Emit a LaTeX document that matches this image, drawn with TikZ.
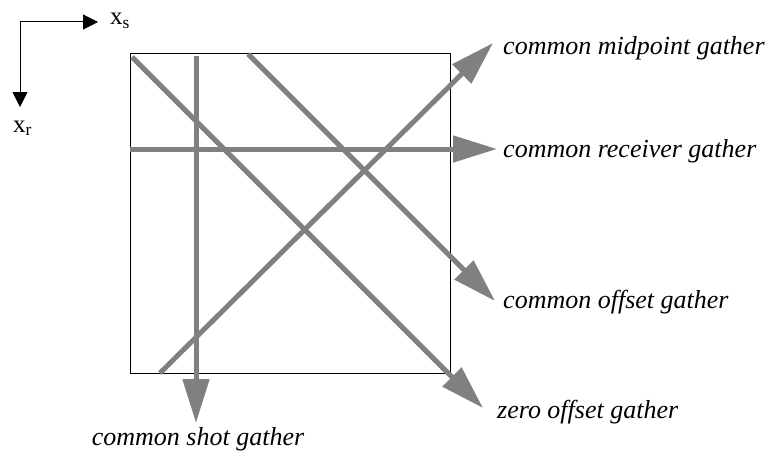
\documentclass[tikz,border=0pt]{standalone}
\usepackage{fontspec}
\setmainfont{Liberation Serif}
\usetikzlibrary{arrows.meta}

\begin{document}
\begin{tikzpicture}[
    x=1pt, y=-1pt,
    gray ray/.style={draw=gray, line width=5pt, -{Triangle[length=44pt, width=26pt]}},
    axis/.style={line width=1pt, -{Triangle[length=15pt, width=15pt]}},
    lbl/.style={font=\fontsize{26}{30}\selectfont\itshape, anchor=base west, inner sep=0pt},
    axlbl/.style={font=\fontsize{25}{30}\selectfont, anchor=base west, inner sep=0pt},
]
\useasboundingbox (0,0) rectangle (773,452);

% axes
\coordinate (origin) at (20,22);
\coordinate (xs_tip) at (98,22);
\coordinate (xr_tip) at (20,107);
\draw[axis] (origin) -- (xs_tip);
\draw[axis] (origin) -- (xr_tip);
\node[axlbl] (xs_lbl) at (110,25) {x\textsubscript{s}};
\node[axlbl] (xr_lbl) at (13,132) {x\textsubscript{r}};

% data square
\draw[line width=1pt] (130,54) rectangle (450,373);

% gathers
\coordinate (zo_start) at (132,57);
\coordinate (zo_tip) at (483,408);
\coordinate (cs_start) at (196,56);
\coordinate (cs_tip) at (196,423);
\coordinate (co_start) at (248,54);
\coordinate (co_tip) at (495,301);
\coordinate (cr_start) at (130,149);
\coordinate (cr_tip) at (497,149);
\coordinate (cm_start) at (160,373);
\coordinate (cm_tip) at (493,43);

\draw[gray ray] (zo_start) -- (zo_tip);
\draw[gray ray] (cs_start) -- (cs_tip);
\draw[gray ray] (co_start) -- (co_tip);
\draw[gray ray] (cr_start) -- (cr_tip);
\draw[gray ray] (cm_start) -- (cm_tip);

\node[lbl] (cm_lbl) at (503,55) {common midpoint gather};
\node[lbl] (cr_lbl) at (503,157) {common receiver gather};
\node[lbl] (co_lbl) at (503,308) {common offset gather};
\node[lbl] (zo_lbl) at (497,418) {zero offset gather};
\node[lbl, anchor=base] (cs_lbl) at (198,445) {common shot gather};

\end{tikzpicture}
\end{document}
